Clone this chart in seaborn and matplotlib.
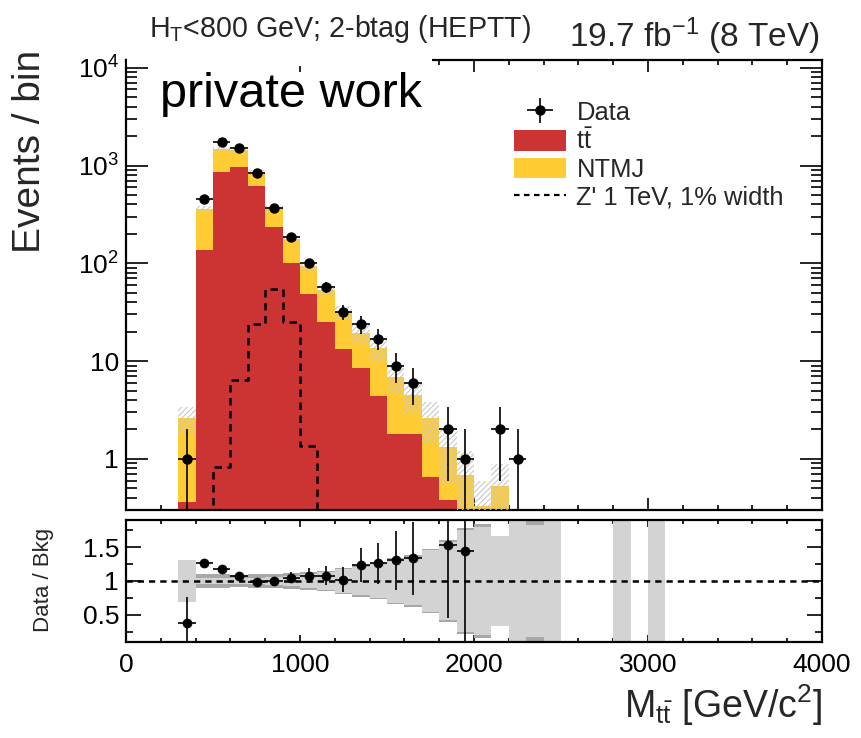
import numpy as np
import pandas as pd
import matplotlib
matplotlib.use("Agg")
import matplotlib.pyplot as plt
import seaborn as sns
from matplotlib.patches import Patch, Rectangle
from matplotlib.lines import Line2D

# ---------------- data (100 GeV bins, lower edges) ----------------
bin_low = [300, 400, 500, 600, 700, 800, 900, 1000, 1100, 1200, 1300, 1400,
           1500, 1600, 1700, 1800, 1900, 2000, 2100, 2200, 2300, 2400, 2500,
           2600, 2700, 2800, 2900, 3000]
data = [1, 457, 1730, 1527, 840, 364, 187, 101, 57, 32, 24, 17, 9, 6, 0, 2, 1,
        0, 2, 1, 0, 0, 0, 0, 0, 0, 0, 0]
data_err = [1.0, 21.4, 41.6, 39.1, 29.0, 19.1, 13.7, 10.0, 7.5, 5.7, 4.9, 4.1,
            3.0, 2.45, 0, 1.41, 1.0, 0, 1.41, 1.0, 0, 0, 0, 0, 0, 0, 0, 0]
ttbar = [0.36, 137, 855, 961, 615, 236, 101, 48, 25, 13.3, 8.4, 4.4, 1.8, 1.8,
         0.66, 0.38, 0.2, 0.05, 0.05, 0.02, 0.02, 0.01, 0, 0, 0, 0.01, 0, 0.01]
total_bkg = [2.6, 363, 1466, 1427, 853, 366, 178, 93.5, 52.8, 31.4, 19.4, 13.5,
             6.9, 4.5, 2.6, 1.31, 0.69, 0.33, 0.53, 0.08, 0.06, 0.05, 0, 0, 0,
             0.03, 0, 0.03]
unc_rel = [0.31, 0.05, 0.05, 0.05, 0.05, 0.06, 0.08, 0.10, 0.13, 0.17, 0.21,
           0.25, 0.32, 0.36, 0.455, 0.58, 0.75, 0.80, 0.66, 1.2, 0.82, 1.2, 0,
           0, 0, 1.2, 0, 1.2]
unc_rel_tot = [0.31, 0.11, 0.10, 0.09, 0.10, 0.11, 0.12, 0.13, 0.15, 0.19,
               0.23, 0.27, 0.34, 0.38, 0.47, 0.60, 0.78, 0.84, 0.66, 1.3, 1.3,
               1.3, 0, 0, 0, 1.3, 0, 1.3]
zprime = [0, 0, 0.82, 6.4, 24, 54, 25, 1.37, 0, 0, 0, 0, 0, 0, 0, 0, 0, 0, 0,
          0, 0, 0, 0, 0, 0, 0, 0, 0]

bin_width = 100
x_min, x_max = 0, 4000
y_min, y_max = 0.3, 1.2e4
r_min, r_max = 0.1, 1.9

RED = "#CC3333"
YELLOW = "#FFCC33"
LIGHT = "#D3D3D3"
DARK = "#A8A8A8"

# ---------------- style ----------------
sns.set_theme(style="ticks")
plt.rcParams["font.family"] = ["Liberation Sans", "DejaVu Sans"]
plt.rcParams["mathtext.fontset"] = "custom"
plt.rcParams["mathtext.rm"] = "Liberation Sans"
plt.rcParams["mathtext.it"] = "Liberation Sans"
plt.rcParams["mathtext.bf"] = "Liberation Sans"
plt.rcParams["hatch.color"] = "#C8C8C8"
plt.rcParams["hatch.linewidth"] = 0.8

lo = np.array(bin_low, dtype=float)
centers = lo + bin_width / 2
edges = np.append(lo, lo[-1] + bin_width)
full_edges = np.arange(x_min, x_max + bin_width, bin_width)
full_centers = full_edges[:-1] + bin_width / 2


def pad(vals):
    out = np.zeros(len(full_centers))
    idx = ((lo - x_min) / bin_width).astype(int)
    out[idx] = vals
    return out


df = pd.DataFrame({"m": full_centers, "total": pad(total_bkg),
                   "ttbar": pad(ttbar), "zprime": pad(zprime)})

W, H = 862, 738
fig = plt.figure(figsize=(W / 100, H / 100), dpi=100)


def ax_rect(l, t, r, b):
    return [l / W, 1 - b / H, (r - l) / W, (b - t) / H]


ax = fig.add_axes(ax_rect(126, 60, 822, 510))
rax = fig.add_axes(ax_rect(126, 520, 822, 642))

hist_kw = dict(binwidth=bin_width, binrange=(x_min, x_max), element="step")
# stacked backgrounds: total (NTMJ on top) then ttbar
sns.histplot(data=df, x="m", weights="total", fill=True, color=YELLOW,
             alpha=1, linewidth=0, ax=ax, **hist_kw)
sns.histplot(data=df, x="m", weights="ttbar", fill=True, color=RED,
             alpha=1, linewidth=0, ax=ax, **hist_kw)
ax.set_yscale("log")

# hatched uncertainty band
tot = np.array(total_bkg)
unc = tot * np.array(unc_rel)
lo_band = np.clip(tot - unc, 1e-3, None)
hi_band = np.clip(tot + unc, 1e-3, None)
ax.bar(centers, hi_band - lo_band, bottom=lo_band, width=bin_width,
       facecolor="none", edgecolor="#C8C8C8", hatch="//////", linewidth=0,
       zorder=3)

# Z' signal
sns.histplot(data=df, x="m", weights="zprime", fill=False, color="black",
             linewidth=1.8, linestyle=(0, (3, 2.2)), ax=ax, **hist_kw)
ax.axhline(y_min * 1.01, color="#D2691E", lw=1.0, ls=(0, (3, 2)), zorder=1)

# data
d = np.array(data, dtype=float)
de = np.array(data_err, dtype=float)
m = d > 0
cont = ax.errorbar(centers[m], d[m], xerr=bin_width / 2, yerr=de[m], fmt="o",
                   color="black", markersize=6.5, elinewidth=1.2, capsize=0,
                   zorder=5)

ax.set_xlim(x_min, x_max)
ax.set_ylim(y_min, y_max)
ax.set_xlabel("")
ax.set_ylabel("")

# ---------------- ratio ----------------
rel_l = np.array(unc_rel)
rel_d = np.array(unc_rel_tot)
has = tot > 0
for rel, col in ((rel_d, DARK), (rel_l, LIGHT)):
    rax.bar(centers[has], 2 * rel[has], bottom=1 - rel[has], width=bin_width,
            color=col, linewidth=0)

rax.axhline(1.0, color="black", lw=1.8, ls=(0, (2.5, 2)))
safe_tot = np.where(has, tot, 1.0)
ratio = np.where(has, d / safe_tot, np.nan)
ratio_err = np.where(has, de / safe_tot, np.nan)
rm = (d > 0) & has & (ratio < r_max) & (ratio > r_min)
rax.errorbar(centers[rm], ratio[rm], xerr=bin_width / 2, yerr=ratio_err[rm],
             fmt="none", ecolor="black", elinewidth=1.2, capsize=0, zorder=5)
sns.scatterplot(x=centers[rm], y=ratio[rm], color="black", s=42,
                edgecolor="black", zorder=6, ax=rax)
rax.set_xlim(x_min, x_max)
rax.set_ylim(r_min, r_max)
rax.set_yticks([0.5, 1.0, 1.5])
rax.set_yticklabels(["0.5", "1", "1.5"])
rax.set_yticks([0.25, 0.75, 1.25, 1.75], minor=True)
rax.set_xticks([0, 1000, 2000, 3000, 4000])
rax.set_xticklabels(["0", "1000", "2000", "3000", "4000"])
rax.set_xticks(np.arange(0, 4001, 200), minor=True)
rax.set_xlabel("")
rax.set_ylabel("")

ax.set_xticks([0, 1000, 2000, 3000, 4000])
ax.set_xticks(np.arange(0, 4001, 200), minor=True)
ax.set_yticks([1, 10, 100, 1000, 10000])
ax.set_yticklabels(["1", "10", r"$10^{2}$", r"$10^{3}$", r"$10^{4}$"])
ax.tick_params(axis="x", labelbottom=False)

for a in (ax, rax):
    for s in a.spines.values():
        s.set_linewidth(1.6)
        s.set_color("black")
        s.set_visible(True)
    a.tick_params(which="both", direction="in", top=True, right=True,
                  colors="black", width=1.2, labelsize=19)
ax.tick_params(axis="y", which="major", length=16, pad=5)
ax.tick_params(axis="y", which="minor", length=8)
ax.tick_params(axis="x", which="major", length=8.5)
ax.tick_params(axis="x", which="minor", length=3.6)
rax.tick_params(axis="y", which="major", length=11, pad=5)
rax.tick_params(axis="y", which="minor", length=5)
rax.tick_params(axis="x", which="major", length=5, pad=8)
rax.tick_params(axis="x", which="minor", length=3)
ax.set_facecolor("white")
rax.set_facecolor("white")

# ---------------- legend ----------------
handles = [cont, Patch(facecolor=RED, edgecolor="none"),
           Patch(facecolor=YELLOW, edgecolor="none"),
           Line2D([], [], color="black", lw=1.6, ls=(0, (2.5, 2)))]
labels = ["Data", r"$\mathregular{t\bar{t}}$", "NTMJ", "Z' 1 TeV, 1% width"]
leg = fig.legend(handles, labels, loc="upper left",
                 bbox_to_anchor=(501 / W, 1 - 88 / H), frameon=False,
                 fontsize=18.4, handlelength=2.05, handleheight=0.85,
                 labelspacing=0.14, handletextpad=0.4, borderpad=0)

# ---------------- texts ----------------
fig.patches.append(Rectangle(
    (127.5 / W, 1 - 66 / H), (432 - 127.5) / W, 10 / H,
    transform=fig.transFigure, facecolor="white", edgecolor="none", zorder=10))
fig.text(160 / W, 1 - 107 / H, "private work", fontsize=35, color="black",
         ha="left", va="baseline", zorder=11)

fig.text(149 / W, 1 - 37 / H, r"$\mathregular{H_{T}}$<800 GeV; 2-btag (HEPTT)",
         fontsize=20.6, ha="left", va="baseline")
fig.text(819 / W, 1 - 47 / H, r"19.7 fb$^{\mathregular{-1}}$ (8 TeV)",
         fontsize=24, ha="right", va="baseline")
fig.text(30 / W, 1 - 50 / H, "Events / bin", fontsize=28, rotation=90,
         ha="center", va="top")
fig.text(44 / W, 1 - 580 / H, "Data / Bkg", fontsize=16, rotation=90,
         ha="center", va="center")
fig.text(822 / W, 1 - 718 / H,
         r"M$_{\mathregular{t\bar{t}}}$ [GeV/c$^{\mathregular{2}}$]",
         fontsize=27, ha="right", va="baseline")

fig.savefig("out.png", dpi=100, facecolor="white")
